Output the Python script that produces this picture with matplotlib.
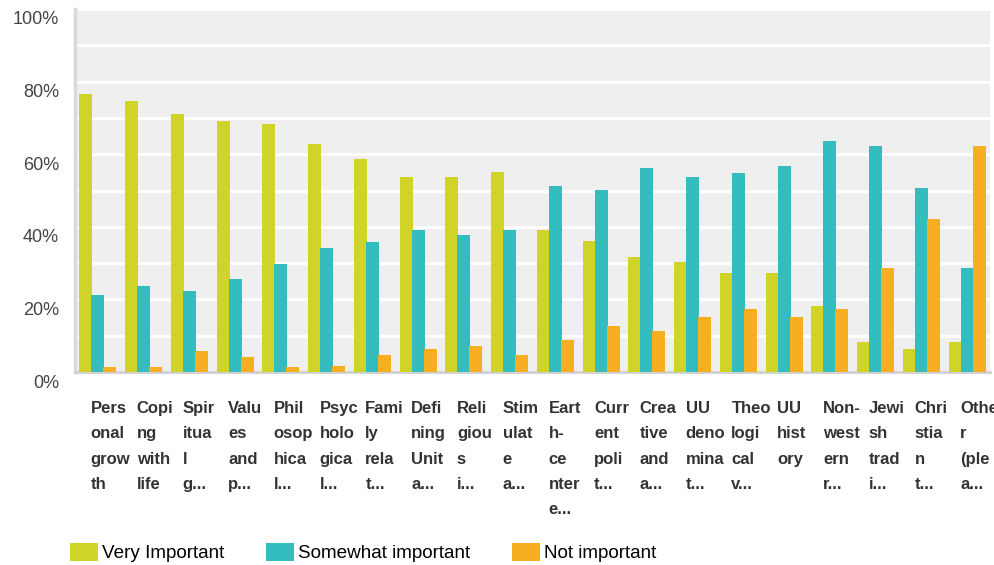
import matplotlib
matplotlib.use("Agg")
import matplotlib.pyplot as plt
import matplotlib.transforms as mtransforms
from matplotlib.patches import FancyBboxPatch
import numpy as np

plt.rcParams['font.family'] = ['Liberation Sans', 'DejaVu Sans']

# wrapped / truncated labels as shown in the survey export
categories = [
    "Pers\nonal\ngrow\nth", "Copi\nng\nwith\nlife", "Spir\nitua\nl\ng...",
    "Valu\nes\nand\np...", "Phil\nosop\nhica\nl...", "Psyc\nholo\ngica\nl...",
    "Fami\nly\nrela\nt...", "Defi\nning\nUnit\na...", "Reli\ngiou\ns\ni...",
    "Stim\nulat\ne\na...", "Eart\nh-\nce\nnter\ne...", "Curr\nent\npoli\nt...",
    "Crea\ntive\nand\na...", "UU\ndeno\nmina\nt...", "Theo\nlogi\ncal\nv...",
    "UU\nhist\nory", "Non-\nwest\nern\nr...", "Jewi\nsh\ntrad\ni...",
    "Chri\nstia\nn\nt...", "Othe\nr\n(ple\na...",
]
very_important = [76.6, 74.6, 71.0, 69.1, 68.3, 62.8, 58.6, 53.7, 53.7, 55.1,
                  39.1, 36.0, 31.6, 30.2, 27.2, 27.2, 18.1, 8.2, 6.3, 8.2]
somewhat_important = [21.1, 23.6, 22.2, 25.6, 29.7, 34.1, 35.8, 39.1, 37.7, 39.1,
                      51.2, 50.1, 56.2, 53.7, 54.8, 56.7, 63.6, 62.2, 50.6, 28.6]
not_important = [1.3, 1.3, 5.7, 4.0, 1.3, 1.6, 4.6, 6.3, 7.1, 4.6,
                 8.7, 12.6, 11.2, 15.1, 17.3, 15.1, 17.3, 28.6, 42.1, 62.2]
series_names = ["Very Important", "Somewhat important", "Not important"]
colors = ["#d0d428", "#33bdbf", "#f7ae20"]
y_ticks = list(range(0, 101, 10))

fig = plt.figure(figsize=(9.95, 5.65), dpi=100)
ax = fig.add_axes([75 / 995, 1 - 372 / 565, 915 / 995, 363 / 565])
ax.set_facecolor("#efefef")

x = np.arange(len(categories))
width = 0.285
offset = 0.26
handles = []
for i, (vals, col, name) in enumerate(zip(
        [very_important, somewhat_important, not_important], colors, series_names)):
    ax.bar(x + (i - 1) * offset, vals, width=width, color=col, zorder=3 + i)
    handles.append(FancyBboxPatch((0, 0), 1, 1, boxstyle="round,pad=0,rounding_size=0.15",
                                  facecolor=col, edgecolor="none", label=name))

ax.set_xlim(-0.5, len(categories) - 0.5)
ax.set_ylim(0, 100)

# y axis: gridline every 10%, label every 20%
ax.set_yticks(y_ticks)
ax.set_yticklabels([f"{v}%" if v % 20 == 0 else "" for v in y_ticks],
                   fontsize=13, color="#444444")
ax.yaxis.grid(True, color="white", linewidth=2, zorder=1)
ax.set_axisbelow(True)
ax.tick_params(axis="y", length=0, pad=11.5)
shift_down = mtransforms.ScaledTranslation(0, -9 / 100, fig.dpi_scale_trans)
for lbl in ax.get_yticklabels():
    lbl.set_transform(lbl.get_transform() + shift_down)

# x axis: wrapped bold labels, left aligned
ax.set_xticks(x)
ax.set_xticklabels(categories, fontsize=12, fontweight="bold", color="#333333",
                   ha="left", linespacing=1.85)
ax.tick_params(axis="x", length=0, pad=21)
shift_left = mtransforms.ScaledTranslation(-7 / 100, 0, fig.dpi_scale_trans)
for lbl in ax.get_xticklabels():
    lbl.set_transform(lbl.get_transform() + shift_left)

for side in ["top", "right"]:
    ax.spines[side].set_visible(False)
ax.spines["left"].set_color("#d9d9d9")
ax.spines["left"].set_linewidth(2.5)
ax.spines["bottom"].set_color("#cfcfcf")
ax.spines["bottom"].set_linewidth(2)

fig.legend(handles=handles, loc="lower left", bbox_to_anchor=(70 / 995, 3 / 565),
           ncol=3, frameon=False, fontsize=13.6, handlelength=1.5, handleheight=1.1,
           handletextpad=0.2, columnspacing=2.2, borderpad=0, borderaxespad=0)

fig.savefig("out.png", dpi=100)
plt.close(fig)
